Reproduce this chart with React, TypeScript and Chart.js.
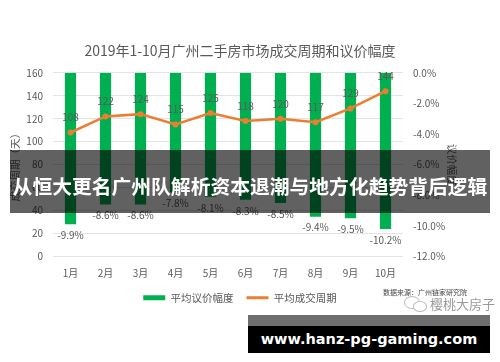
import React, { useEffect, useRef } from 'react';
import { Chart, registerables } from 'chart.js';

Chart.register(...registerables);

const months = ['1月', '2月', '3月', '4月', '5月', '6月', '7月', '8月', '9月', '10月'];
const bargainRate = [-9.9, -8.6, -8.6, -7.8, -8.1, -8.3, -8.5, -9.4, -9.5, -10.2];
const dealCycle = [108, 122, 124, 115, 125, 118, 120, 117, 129, 144];
const barLabel = '平均议价幅度';
const lineLabel = '平均成交周期';
const chartTitle = '2019年1-10月广州二手房市场成交周期和议价幅度';
const leftAxisTitle = '成交周期（天）';
const rightAxisTitle = '议价幅度';
const overlayTitle = '从恒大更名广州队解析资本退潮与地方化趋势背后逻辑';
const siteUrl = 'www.hanz-pg-gaming.com';
const sourceNote = '数据来源：广州链家研究院';
const watermark = '樱桃大房子';

const FONT = "'Noto Sans CJK SC', 'Noto Sans', sans-serif";
const GRAY = '#595959';
const GREEN = '#00B050';
const ORANGE = '#ED7D31';

const valueLabels = {
  id: 'valueLabels',
  afterDatasetsDraw(chart: any) {
    const ctx = chart.ctx;
    ctx.save();
    ctx.font = `10px ${FONT}`;
    ctx.fillStyle = GRAY;
    ctx.textAlign = 'center';
    ctx.textBaseline = 'middle';
    chart.data.datasets.forEach((ds: any, i: number) => {
      const meta = chart.getDatasetMeta(i);
      meta.data.forEach((el: any, j: number) => {
        const v = ds.data[j];
        if (ds.type === 'bar') ctx.fillText(v.toFixed(1) + '%', el.x, el.y + 11);
        else ctx.fillText(String(v), el.x, el.y - 15);
      });
    });
    ctx.restore();
  },
};

export default function App() {
  const ref = useRef<HTMLCanvasElement>(null);
  useEffect(() => {
    if (!ref.current) return;
    const chart = new Chart(ref.current, {
      type: 'bar',
      data: {
        labels: months,
        datasets: [
          {
            type: 'bar',
            label: barLabel,
            data: bargainRate,
            backgroundColor: GREEN,
            borderWidth: 0,
            yAxisID: 'y1',
            barPercentage: 0.32,
            categoryPercentage: 1,
            order: 2,
          } as any,
          {
            type: 'line',
            label: lineLabel,
            data: dealCycle,
            borderColor: ORANGE,
            backgroundColor: ORANGE,
            borderWidth: 2.5,
            pointRadius: 3,
            pointBackgroundColor: ORANGE,
            pointBorderWidth: 0,
            yAxisID: 'y',
            order: 1,
          } as any,
        ],
      },
      options: {
        responsive: false,
        animation: false,
        devicePixelRatio: 1,
        layout: { padding: { left: 0, right: 20, top: 0, bottom: 49 } },
        plugins: {
          tooltip: { enabled: false },
          title: {
            display: true,
            text: chartTitle,
            color: GRAY,
            font: { family: FONT, size: 14, weight: 'normal' },
            padding: { top: 42, bottom: 14 },
          },
          legend: {
            position: 'bottom',
            labels: {
              color: GRAY,
              font: { family: FONT, size: 10.5 },
              usePointStyle: true,
              pointStyleWidth: 22,
              boxHeight: 5,
              padding: 13,
              sort: (a: any, b: any) => a.datasetIndex - b.datasetIndex,
              generateLabels: (chart: any) => {
                const items = (Chart.defaults.plugins.legend.labels as any).generateLabels(chart);
                items.forEach((it: any) => {
                  if (it.datasetIndex === 0) {
                    it.pointStyle = 'rect';
                    it.fillStyle = GREEN;
                    it.lineWidth = 0;
                  } else {
                    it.pointStyle = 'line';
                    it.strokeStyle = ORANGE;
                    it.fillStyle = ORANGE;
                    it.lineWidth = 3;
                  }
                });
                return items;
              },
            },
          },
        },
        scales: {
          x: {
            grid: { display: false, drawTicks: false },
            border: { display: false },
            ticks: { color: GRAY, font: { family: FONT, size: 10 }, padding: 11 },
            afterFit: (s: any) => { s.height = 23; },
          },
          y: {
            position: 'left',
            min: 0,
            max: 160,
            ticks: { stepSize: 20, color: GRAY, font: { family: FONT, size: 10 }, padding: 10 },
            grid: { color: '#e3e3e3', drawTicks: false },
            border: { display: false },
            title: {
              display: true,
              text: leftAxisTitle,
              color: GRAY,
              font: { family: FONT, size: 10.5 },
              padding: { top: 9, bottom: 0 },
            },
            afterFit: (s: any) => { s.width = 53; },
          },
          y1: {
            position: 'right',
            min: -12,
            max: 0,
            ticks: {
              stepSize: 2,
              color: GRAY,
              font: { family: FONT, size: 10 },
              padding: 10,
              callback: (v: any) => Number(v).toFixed(1) + '%',
            },
            grid: { display: false, drawTicks: false },
            border: { display: false },
            title: {
              display: true,
              text: rightAxisTitle,
              color: GRAY,
              font: { family: FONT, size: 10.5 },
              padding: { top: 22, bottom: 0 },
            },
            afterFit: (s: any) => { s.width = 77; },
          },
        },
      } as any,
      plugins: [valueLabels],
    });
    return () => chart.destroy();
  }, []);

  return (
    <div style={{ position: 'absolute', left: 0, top: 0, width: 500, height: 362, background: '#fff', overflow: 'hidden' }}>
      <canvas ref={ref} width={500} height={362} style={{ display: 'block' }} />
      <div style={{ position: 'absolute', left: 383, top: 287, fontFamily: FONT, fontSize: 7, color: '#444', whiteSpace: 'nowrap' }}>
        {sourceNote}
      </div>
      <div style={{ position: 'absolute', left: 404, top: 296, width: 14, height: 11, border: '1px solid #bbb', borderRadius: '50%' }} />
      <div style={{ position: 'absolute', left: 413, top: 301, width: 12, height: 9, border: '1px solid #bbb', borderRadius: '50%', background: '#fff' }} />
      <div style={{ position: 'absolute', left: 430, top: 294, fontFamily: FONT, fontSize: 13, color: '#9a9a9a', whiteSpace: 'nowrap' }}>
        {watermark}
      </div>
      <div
        style={{
          position: 'absolute', left: 10, top: 150, width: 480, height: 63,
          background: 'rgba(0,0,0,0.62)', color: '#fff', fontFamily: FONT, fontWeight: 700,
          fontSize: 19.8, lineHeight: '63px', textAlign: 'center', whiteSpace: 'nowrap', paddingTop: 4, boxSizing: 'border-box',
        }}
      >
        {overlayTitle}
      </div>
      <div style={{ position: 'absolute', left: 248, top: 315, width: 242, height: 11, background: '#6e6e6e' }} />
      <div
        style={{
          position: 'absolute', left: 248, top: 326, width: 242, height: 27, background: '#000',
          color: '#fff', fontFamily: "'DejaVu Sans', sans-serif", fontWeight: 700, fontSize: 14.5,
          lineHeight: '27px', textAlign: 'center', whiteSpace: 'nowrap',
        }}
      >
        {siteUrl}
      </div>
    </div>
  );
}
